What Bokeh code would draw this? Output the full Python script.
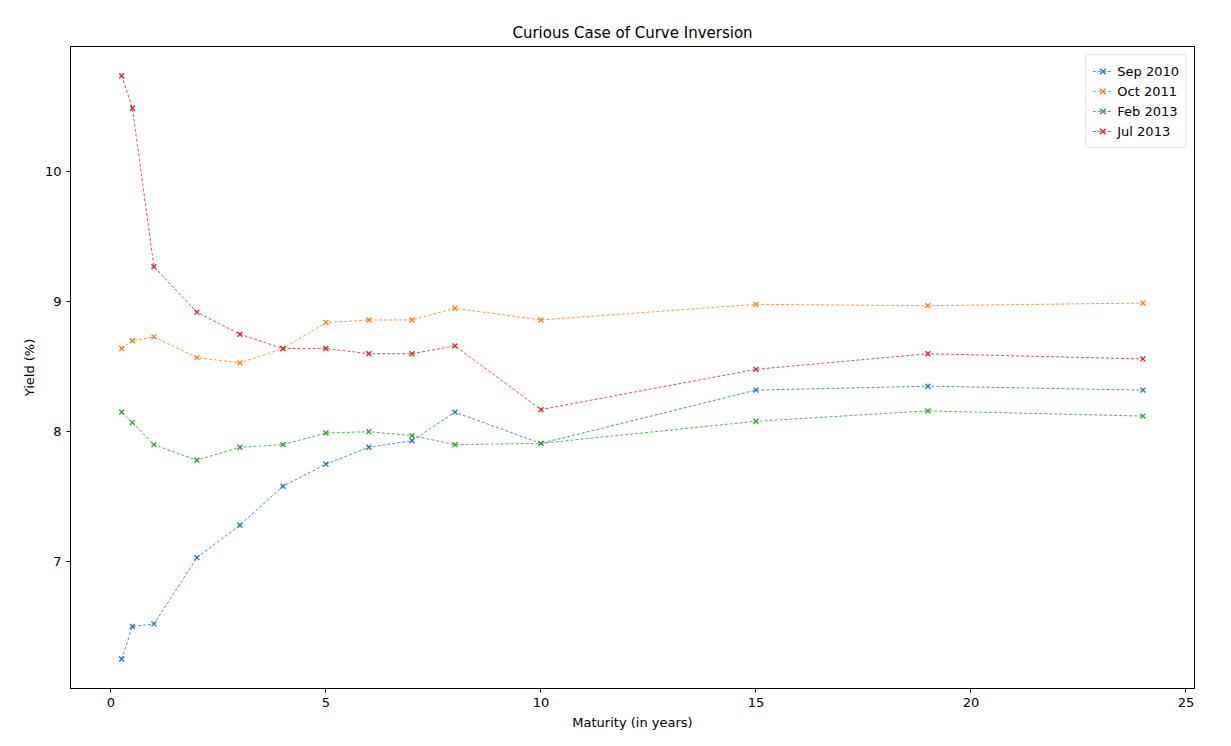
from bokeh.plotting import figure
from bokeh.models import Range1d, Legend, LegendItem, FixedTicker
from bokeh.embed import file_html
from bokeh.resources import INLINE

maturity = [0.25, 0.5, 1, 2, 3, 4, 5, 6, 7, 8, 10, 15, 19, 24]
sep_2010 = [6.25, 6.50, 6.52, 7.03, 7.28, 7.58, 7.75, 7.88, 7.93, 8.15, 7.91, 8.32, 8.35, 8.32]
oct_2011 = [8.64, 8.70, 8.73, 8.57, 8.53, 8.64, 8.84, 8.86, 8.86, 8.95, 8.86, 8.98, 8.97, 8.99]
feb_2013 = [8.15, 8.07, 7.90, 7.78, 7.88, 7.90, 7.99, 8.00, 7.97, 7.90, 7.91, 8.08, 8.16, 8.12]
jul_2013 = [10.74, 10.49, 9.27, 8.92, 8.75, 8.64, 8.64, 8.60, 8.60, 8.66, 8.17, 8.48, 8.60, 8.56]

series = [("Sep 2010", sep_2010, "#1f77b4"), ("Oct 2011", oct_2011, "#ff7f0e"),
          ("Feb 2013", feb_2013, "#2ca02c"), ("Jul 2013", jul_2013, "#d62728")]

p = figure(width=1212, height=732, output_backend="svg", toolbar_location=None,
           title="Curious Case of Curve Inversion",
           x_axis_label="Maturity (in years)", y_axis_label="Yield (%)",
           x_range=Range1d(-0.94, 25.2), y_range=Range1d(6.023, 10.965),
           min_border_left=70, min_border_right=18, min_border_top=46, min_border_bottom=40)
p.title.align = "center"
p.title.text_font = "DejaVu Sans"
p.title.text_font_size = "15px"
p.title.text_font_style = "normal"
p.title.text_color = "black"
p.xgrid.visible = False
p.ygrid.visible = False
p.outline_line_color = "black"
p.xaxis.ticker = FixedTicker(ticks=[0, 5, 10, 15, 20, 25])
p.yaxis.ticker = FixedTicker(ticks=[7, 8, 9, 10])
for ax in (p.xaxis[0], p.yaxis[0]):
    ax.minor_tick_line_color = None
    ax.major_label_text_font = "DejaVu Sans"
    ax.major_label_text_font_size = "13px"
    ax.major_label_text_color = "black"
    ax.axis_label_text_font = "DejaVu Sans"
    ax.axis_label_text_font_size = "13px"
    ax.axis_label_text_font_style = "normal"
    ax.axis_label_text_color = "black"
    ax.axis_line_color = "black"
    ax.major_tick_line_color = "black"
    ax.major_tick_in = 0
    ax.major_tick_out = 4

items = []
for name, vals, c in series:
    l = p.line(maturity, vals, line_color=c, line_width=0.8, line_dash="3 2")
    m = p.scatter(maturity, vals, marker="x", size=7, line_color=c, line_width=1.3)
    items.append(LegendItem(label=name, renderers=[l, m]))

legend = Legend(items=items, location="top_right", label_text_font="DejaVu Sans",
                label_text_font_size="13px", label_text_color="black",
                border_line_color="#cccccc",
                spacing=0, padding=6, glyph_height=20, label_height=20, margin=8)
p.add_layout(legend)

open("out.html", "w").write(file_html(p, INLINE))
